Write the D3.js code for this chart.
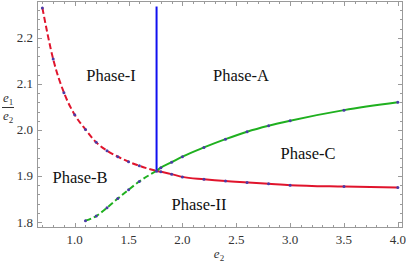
<!DOCTYPE html>
<html><head><meta charset="utf-8">
<script src="https://cdn.jsdelivr.net/npm/d3@7"></script>
<style>html,body{margin:0;padding:0;background:#fff;}svg{display:block;} text{font-family:"Liberation Serif","DejaVu Serif",serif;}</style>
</head><body><svg id="c" width="406" height="264"></svg>
<script>
const redX = [0.7,0.8,0.9,1.0,1.1,1.2,1.3,1.4,1.5,1.6,1.76,1.8,1.9,2.0,2.2,2.4,2.6,2.8,3.0,3.5,4.0];
const redY = [2.265,2.154,2.081,2.033,2.001,1.973,1.955,1.942,1.931,1.922,1.911,1.909,1.904,1.898,1.893,1.889,1.886,1.883,1.880,1.877,1.875];
const greenX = [1.1,1.2,1.3,1.4,1.5,1.6,1.76,1.8,1.9,2.0,2.2,2.4,2.6,2.8,3.0,3.5,4.0];
const greenY = [1.803,1.813,1.831,1.851,1.870,1.888,1.911,1.918,1.930,1.942,1.962,1.980,1.996,2.009,2.020,2.043,2.060];
const blueX = [1.76,1.76];
const blueY = [1.911,2.268];
const splitX = 1.76;
const xTicks = [1.0,1.5,2.0,2.5,3.0,3.5,4.0];
const yTicks = [1.8,1.9,2.0,2.1,2.2];
const phaseLabels = ["Phase-I","Phase-A","Phase-B","Phase-C","Phase-II"];
const phaseX = [1.337,2.544,1.049,3.166,2.154];
const phaseY = [2.106,2.106,1.885,1.937,1.826];

const svg = d3.select("#c");
const L=37,R=403,T=1,B=228;
const x = d3.scaleLinear().domain([0.65,4.048]).range([L,R]);
const y = d3.scaleLinear().domain([1.787,2.28]).range([B,T]);
const frameCol="#9a9a9a";
const serif='"Liberation Serif","DejaVu Serif",serif';

// frame
svg.append("rect").attr("x",L+0.5).attr("y",T+0.5).attr("width",R-L-1).attr("height",B-T-1)
  .attr("fill","none").attr("stroke",frameCol).attr("stroke-width",1);

// ticks
const xMinor = d3.range(7,41).map(d=>d/10).filter(v=>!xTicks.some(m=>Math.abs(m-v)<1e-6));
const yMinor = d3.range(90,114).map(d=>d/50).filter(v=>v<=2.28 && !yTicks.some(m=>Math.abs(m-v)<1e-6));
const g = svg.append("g").attr("stroke",frameCol).attr("stroke-width",1);
function xt(v,len){const px=Math.round(x(v))+0.5;
  g.append("line").attr("x1",px).attr("x2",px).attr("y1",B).attr("y2",B-len);
  g.append("line").attr("x1",px).attr("x2",px).attr("y1",T).attr("y2",T+len);}
function yt(v,len){const py=Math.round(y(v))+0.5;
  g.append("line").attr("x1",L).attr("x2",L+len).attr("y1",py).attr("y2",py);
  g.append("line").attr("x1",R).attr("x2",R-len).attr("y1",py).attr("y2",py);}
xTicks.forEach(v=>xt(v,5)); xMinor.forEach(v=>xt(v,3));
yTicks.forEach(v=>yt(v,5)); yMinor.forEach(v=>yt(v,3));

// tick labels
svg.append("g").selectAll("text").data(xTicks).join("text")
  .attr("x",d=>x(d)).attr("y",244).attr("text-anchor","middle")
  .style("font-family",serif).attr("font-size",13).attr("fill","#333").text(d=>d.toFixed(1));
svg.append("g").selectAll("text").data(yTicks).join("text")
  .attr("x",33).attr("y",d=>y(d)+4.5).attr("text-anchor","end")
  .style("font-family",serif).attr("font-size",13).attr("fill","#333").text(d=>d.toFixed(1));

// axis labels
const xl = svg.append("text").attr("x",219).attr("y",258).attr("text-anchor","middle")
  .style("font-family",serif).attr("font-size",13).attr("fill","#333");
xl.append("tspan").attr("font-style","italic").text("e");
xl.append("tspan").attr("font-size",9).attr("dy",3).text("2");
const yl1 = svg.append("text").attr("x",3).attr("y",102).style("font-family",serif).attr("font-size",13).attr("fill","#333");
yl1.append("tspan").attr("font-style","italic").text("e");
yl1.append("tspan").attr("font-size",9).attr("dy",3).text("1");
svg.append("line").attr("x1",2).attr("x2",14).attr("y1",107.5).attr("y2",107.5).attr("stroke","#333").attr("stroke-width",1);
const yl2 = svg.append("text").attr("x",3).attr("y",120).style("font-family",serif).attr("font-size",13).attr("fill","#333");
yl2.append("tspan").attr("font-style","italic").text("e");
yl2.append("tspan").attr("font-size",9).attr("dy",3).text("2");

// curves
const line = d3.line().x(d=>x(d[0])).y(d=>y(d[1])).curve(d3.curveMonotoneX);
const red = redX.map((v,i)=>[v,redY[i]]);
const green = greenX.map((v,i)=>[v,greenY[i]]);
const redCol="#e0142c", greenCol="#1fb01f";
function drawSeries(pts,col){
  const dashed = pts.filter(p=>p[0]<=splitX), solid = pts.filter(p=>p[0]>=splitX);
  svg.append("path").attr("d",line(dashed)).attr("fill","none").attr("stroke",col).attr("stroke-width",2).attr("stroke-dasharray","6,3");
  svg.append("path").attr("d",line(solid)).attr("fill","none").attr("stroke",col).attr("stroke-width",2);
}
drawSeries(red,redCol);
drawSeries(green,greenCol);
// blue boundary
svg.append("line").attr("x1",x(blueX[0])).attr("x2",x(blueX[1])).attr("y1",y(blueY[0])).attr("y2",y(blueY[1]))
  .attr("stroke","#1010f0").attr("stroke-width",2);
// markers
svg.append("g").selectAll("circle").data(red.concat(green)).join("circle")
  .attr("cx",d=>x(d[0])).attr("cy",d=>y(d[1])).attr("r",1.5).attr("fill","#4a3aa8");

// phase labels
svg.append("g").selectAll("text").data(phaseLabels).join("text")
  .attr("x",(d,i)=>x(phaseX[i])).attr("y",(d,i)=>y(phaseY[i])).attr("text-anchor","middle")
  .style("font-family",serif).attr("font-size",16.5).attr("fill","#111").text(d=>d);
</script></body></html>
